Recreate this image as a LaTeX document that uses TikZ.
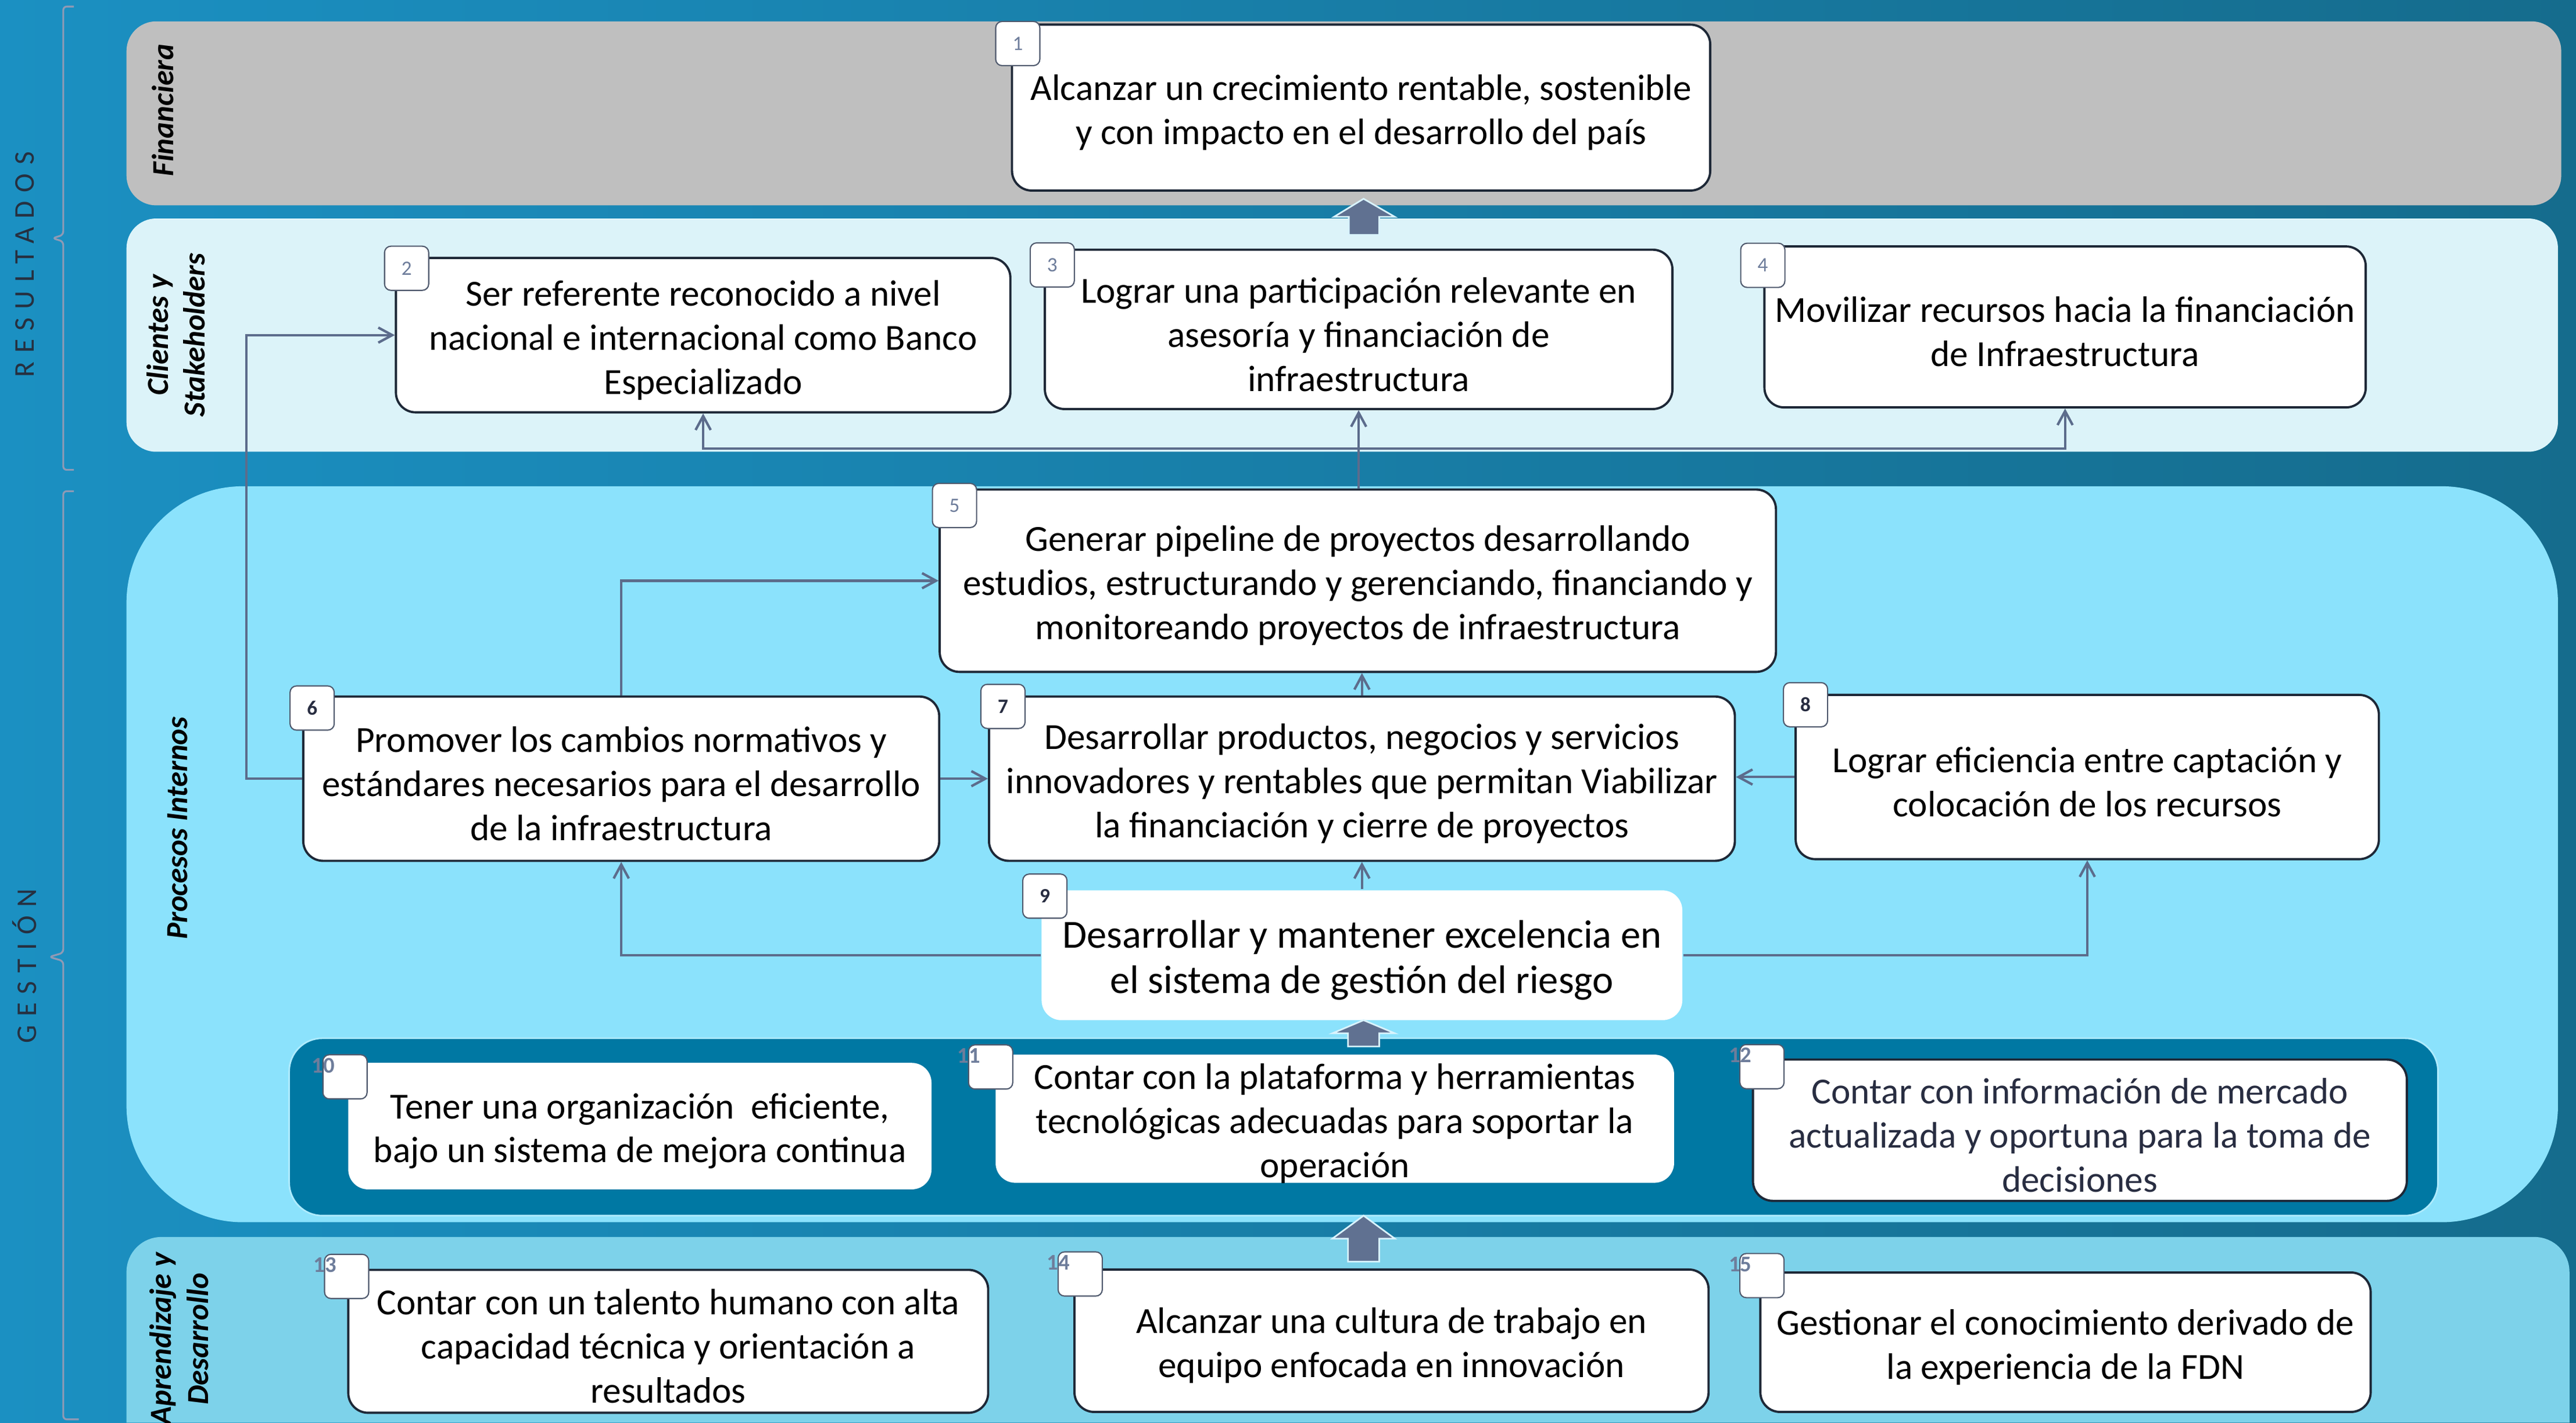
\documentclass[tikz,border=0pt]{standalone}
\usepackage{fontspec}
\setmainfont{Carlito}
\usetikzlibrary{positioning,fit,arrows.meta}

\definecolor{bgleft}{RGB}{27,144,194}
\definecolor{bgright}{RGB}{21,108,141}
\definecolor{bandgray}{RGB}{191,191,191}
\definecolor{bandclient}{RGB}{220,243,249}
\definecolor{bandproc}{RGB}{139,226,252}
\definecolor{banddark}{RGB}{0,120,163}
\definecolor{bandlearn}{RGB}{125,210,234}
\definecolor{boxline}{RGB}{30,40,55}
\definecolor{connline}{RGB}{92,108,140}
\definecolor{tabline}{RGB}{80,90,110}
\definecolor{numlight}{RGB}{110,125,155}
\definecolor{numdark}{RGB}{40,45,65}
\definecolor{arrowfill}{RGB}{96,113,145}
\definecolor{sidetext}{RGB}{38,48,64}
\definecolor{braceline}{RGB}{143,154,181}

\newcommand\boxfont{\fontsize{18}{21.6}\selectfont}
\newcommand\numfont{\fontsize{10}{10}\selectfont}
\newcommand\perspfont{\fontsize{15}{18}\selectfont\bfseries\itshape}

\tikzset{
  goal/.style={draw=boxline, line width=1.1pt, fill=white, rounded corners=3.4mm, inner sep=0pt},
  goalplain/.style={goal, draw=none},
  goaltext/.style={inner sep=0pt, align=center, font=\boxfont, yshift=-0.85mm},
  tab/.style={draw=tabline, line width=0.6pt, fill=white, rounded corners=1.1mm,
    minimum width=7.6mm, minimum height=7.6mm, inner sep=0pt, font=\numfont, text=numlight},
  tabdark/.style={tab, font=\numfont\bfseries, text=numdark},
  tabnum/.style={anchor=north east, inner sep=0pt, font=\fontsize{11}{11}\selectfont\bfseries, text=numlight},
  conn/.style={draw=connline, line width=1.2pt, ->},
  persp/.style={rotate=90, align=center, font=\perspfont},
  side/.style={rotate=90, text=sidetext, font=\fontsize{14}{14}\selectfont\addfontfeature{LetterSpace=30}},
  brace/.style={draw=braceline, line width=0.9pt, rounded corners=0.6mm},
  bigarrow/.style={fill=arrowfill, draw=white!85!cyan, line width=0.8pt, line join=miter}
}

\begin{document}
\begin{tikzpicture}[x=0.2827mm, y=-0.2827mm, >={Straight Barb[length=2.4mm,width=2.6mm]}]
\useasboundingbox (0,0) rectangle (1568,866);
\shade[left color=bgleft, right color=bgright] (0,0) rectangle (1568,866);

\node[side] at (15,161) {RESULTADOS};
\node[side] at (15,588) {GESTIÓN};
\draw[brace] (45,4) -- (38.5,4) -- (38.5,143) -- (32,145) -- (38.5,147) -- (38.5,286) -- (45,286);
\draw[brace] (45,299) -- (38.5,299) -- (38.5,580) -- (30,582.5) -- (38.5,585) -- (38.5,864) -- (48,864);

\fill[bandgray, rounded corners=5.1mm] (77,13) rectangle (1559,125);
\fill[bandclient, rounded corners=5.1mm] (77,133) rectangle (1557,275);
\fill[bandproc, rounded corners=20mm] (77,296) rectangle (1557,744);
\fill[bandlearn] (77,866) {[rounded corners=6mm] -- (77,753) -- (1564,753)} -- (1564,866) -- cycle;
\filldraw[banddark, draw=bandproc!70!white, line width=0.8pt, rounded corners=5.7mm] (176,632) rectangle (1484,740);

\node[persp] (lfin) at (99,67) {Financiera};
\node[persp] (lcli) at (107,204) {Clientes y\\Stakeholders};
\node[persp] (lpro) at (108,504) {Procesos Internos};
\node[persp] (lapr) at (109,815) {Aprendizaje y\\Desarrollo};

\node[goal, fit={(616,15) (1041,116)}] (g1) {};
\node[goal, fit={(241,157) (615,251)}] (g2) {};
\node[goal, fit={(636,152) (1018,249)}] (g3) {};
\node[goal, fit={(1074,150) (1440,248)}] (g4) {};
\node[goal, fit={(572,298) (1081,409)}] (g5) {};
\node[goal, fit={(184.6,424) (571.7,524)}] (g6) {};
\node[goal, fit={(602,424) (1056,524)}] (g7) {};
\node[goal, fit={(1093,423) (1448,523)}] (g8) {};
\node[goalplain, fit={(634,542) (1024,621)}] (g9) {};
\node[goalplain, fit={(212,647) (567,724)}] (g10) {};
\node[goalplain, fit={(606,642) (1019,720)}] (g11) {};
\node[goal, fit={(1067,645) (1465,731)}] (g12) {};
\node[goal, fit={(212,773) (601.5,860)}] (g13) {};
\node[goal, fit={(654,772.8) (1040,859.5)}] (g14) {};
\node[goal, fit={(1071.5,774.6) (1443,859.5)}] (g15) {};

\node[goaltext] (g1t) at (g1) {Alcanzar un crecimiento rentable, sostenible\\y con impacto en el desarrollo del país};
\node[goaltext] (g2t) at (g2) {Ser referente reconocido a nivel\\nacional e internacional como Banco\\Especializado};
\node[goaltext] (g3t) at (g3) {Lograr una participación relevante en\\asesoría y financiación de\\infraestructura};
\node[goaltext] (g4t) at (g4) {Movilizar recursos hacia la financiación\\de Infraestructura};
\node[goaltext] (g5t) at (g5) {Generar pipeline de proyectos desarrollando\\estudios, estructurando y gerenciando, financiando y\\monitoreando proyectos de infraestructura};
\node[goaltext] (g6t) at (g6) {Promover los cambios normativos y\\estándares necesarios para el desarrollo\\de la infraestructura};
\node[goaltext] (g7t) at (g7) {Desarrollar productos, negocios y servicios\\innovadores y rentables que permitan Viabilizar\\la financiación y cierre de proyectos};
\node[goaltext] (g8t) at (g8) {Lograr eficiencia entre captación y\\colocación de los recursos};
\node[goaltext, font=\fontsize{19.5}{22}\selectfont] (g9t) at (g9) {Desarrollar y mantener excelencia en\\el sistema de gestión del riesgo};
\node[goaltext] (g10t) at (g10) {Tener una organización~ eficiente,\\bajo un sistema de mejora continua};
\node[goaltext] (g11t) at (g11) {Contar con la plataforma y herramientas\\tecnológicas adecuadas para soportar la\\operación};
\node[goaltext, text=numdark] (g12t) at (g12) {Contar con información de mercado\\actualizada y oportuna para la toma de\\decisiones};
\node[goaltext] (g13t) at (g13) {Contar con un talento humano con alta\\capacidad técnica y orientación a\\resultados};
\node[goaltext] (g14t) at (g14) {Alcanzar una cultura de trabajo en\\equipo enfocada en innovación};
\node[goaltext] (g15t) at (g15) {Gestionar el conocimiento derivado de\\la experiencia de la FDN};

\coordinate (hub) at (g3.south |- 0,273);
\draw[conn] (g3.south |- g5.north) -- (g3.south);
\draw[conn] (hub) -| (g2.south);
\draw[conn] (hub) -| (g4.south);
\draw[conn] (g6.west) -- ++(-34,0) |- (g2.west);
\draw[conn] (g6.north) |- (g5.west);
\draw[conn] (g6.east) -- (g7.west);
\draw[conn] (g7.north) -- (g7.north |- g5.south);
\draw[conn] (g8.west) -- (g7.east |- g8.west);
\draw[conn] (g9.north) -- (g9.north |- g7.south);
\draw[conn] (g9.west) -| (g6.south);
\draw[conn] (g9.east) -| (g8.south);

\node[tab] (t1) at (619.5,26.5) {1};
\node[tab] (t2) at (247.5,163.3) {2};
\node[tab] (t3) at (640.5,161.3) {3};
\node[tab] (t4) at (1073,161.5) {4};
\node[tab] (t5) at (581,307.7) {5};
\node[tabdark] (t6) at (190,431) {6};
\node[tabdark] (t7) at (610.5,430) {7};
\node[tabdark] (t8) at (1099,429) {8};
\node[tabdark] (t9) at (636,545.5) {9};
\foreach \n/\x/\y in {10/210/655.5, 11/603/649.5, 12/1072.5/649.3, 13/211/777, 14/657.5/775.5, 15/1072.5/776.5}{
  \node[tab] (t\n) at (\x,\y) {};
  \node[tabnum] at ([xshift=2.2mm,yshift=-0.6mm]t\n.north west) {\n};
}

\draw[bigarrow] (830,121) -- (849,132) -- (839.5,132) -- (839.5,143) -- (821,143) -- (821,132) -- (812,132) -- cycle;
\draw[bigarrow] (830,621) -- (849,629) -- (839.5,629) -- (839.5,637) -- (820.5,637) -- (820.5,629) -- (811,629) -- cycle;
\draw[bigarrow] (830,740) -- (849,754) -- (839.5,754) -- (839.5,768) -- (820.5,768) -- (820.5,754) -- (811,754) -- cycle;
\end{tikzpicture}
\end{document}
